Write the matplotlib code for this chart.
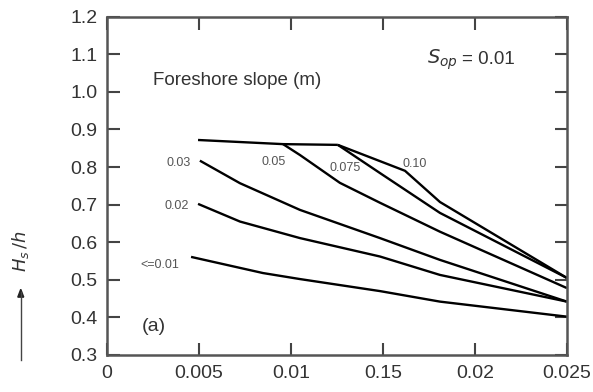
import matplotlib.pyplot as plt

plt.rcParams['font.family'] = ['Liberation Sans', 'DejaVu Sans']

# wave steepness axis (x) and Hs/h (y)
top_x = [0.00495, 0.00957, 0.01255]
top_y = [0.872, 0.861, 0.859]

m010_x = [0.01255, 0.01620, 0.01810, 0.025]
m010_y = [0.859, 0.790, 0.707, 0.505]

m0075_x = [0.01255, 0.01484, 0.01810, 0.025]
m0075_y = [0.859, 0.784, 0.678, 0.505]

m005_x = [0.00957, 0.01049, 0.01266, 0.01484, 0.01810, 0.025]
m005_y = [0.861, 0.832, 0.758, 0.705, 0.628, 0.478]

m003_x = [0.00505, 0.00723, 0.01049, 0.01484, 0.01810, 0.025]
m003_y = [0.817, 0.757, 0.686, 0.611, 0.553, 0.442]

m002_x = [0.00495, 0.00723, 0.01049, 0.01484, 0.01810, 0.025]
m002_y = [0.702, 0.655, 0.611, 0.562, 0.513, 0.442]

m001_x = [0.00457, 0.00848, 0.01049, 0.01484, 0.01810, 0.025]
m001_y = [0.561, 0.518, 0.502, 0.470, 0.442, 0.402]

xticks = [0, 0.005, 0.01, 0.015, 0.02, 0.025]
xtick_labels = ["0", "0.005", "0.01", "0.15", "0.02", "0.025"]
yticks = [0.3, 0.4, 0.5, 0.6, 0.7, 0.8, 0.9, 1.0, 1.1, 1.2]

# slope labels: text, x (left edge), y
slope_labels = [
    ("0.03", 0.00326, 0.811),
    ("0.02", 0.00315, 0.696),
    ("<=0.01", 0.00179, 0.540),
    ("0.05", 0.00840, 0.814),
    ("0.075", 0.01212, 0.798),
    ("0.10", 0.01609, 0.808),
]

txt = '#333333'
fig = plt.figure(figsize=(5.93, 3.92), dpi=100)
ax = fig.add_axes([0.1804, 0.0944, 0.7756, 0.863])

for xs, ys in [(top_x, top_y), (m010_x, m010_y), (m0075_x, m0075_y),
               (m005_x, m005_y), (m003_x, m003_y), (m002_x, m002_y),
               (m001_x, m001_y)]:
    ax.plot(xs, ys, color='black', lw=1.7, solid_capstyle='butt')

for s, x, y in slope_labels:
    ax.text(x, y, s, fontsize=9, color='#555555', ha='left', va='center')

ax.text(0.0025, 1.030, "Foreshore slope (m)", fontsize=13.5, color=txt,
        ha='left', va='center')
ax.text(0.01737, 1.085, r"$S_{op}$", fontsize=14, color=txt, ha='left',
        va='center', family='DejaVu Sans')
ax.text(0.01930, 1.085, "= 0.01", fontsize=13.5, color=txt, ha='left',
        va='center')
ax.text(0.00190, 0.377, "(a)", fontsize=14, color=txt, ha='left', va='center')

ax.set_xlim(0, 0.025)
ax.set_ylim(0.3, 1.2)
ax.set_xticks(xticks)
ax.set_xticklabels(xtick_labels)
ax.set_yticks(yticks)
ax.set_yticklabels([f"{v:.1f}" for v in yticks])
ax.tick_params(direction='in', length=9, width=1.5, labelsize=14,
               colors='#444444', labelcolor=txt, top=True, right=True,
               pad=7)
for sp in ax.spines.values():
    sp.set_linewidth(1.8)
    sp.set_color('#555555')

# y axis label with the arrow under it
fig.text(0.034, 0.36, r"$H_s\,/h$", rotation=90, fontsize=13, color=txt,
         ha='center', va='center')
fig.add_artist(plt.Line2D([0.035, 0.035], [0.082, 0.255], color='#444444',
                          lw=1.0))
fig.patches.append(plt.Polygon([[0.030, 0.242], [0.040, 0.242], [0.035, 0.262]],
                               closed=True, color='#222222',
                               transform=fig.transFigure, figure=fig))

fig.savefig("out.png", dpi=100)
